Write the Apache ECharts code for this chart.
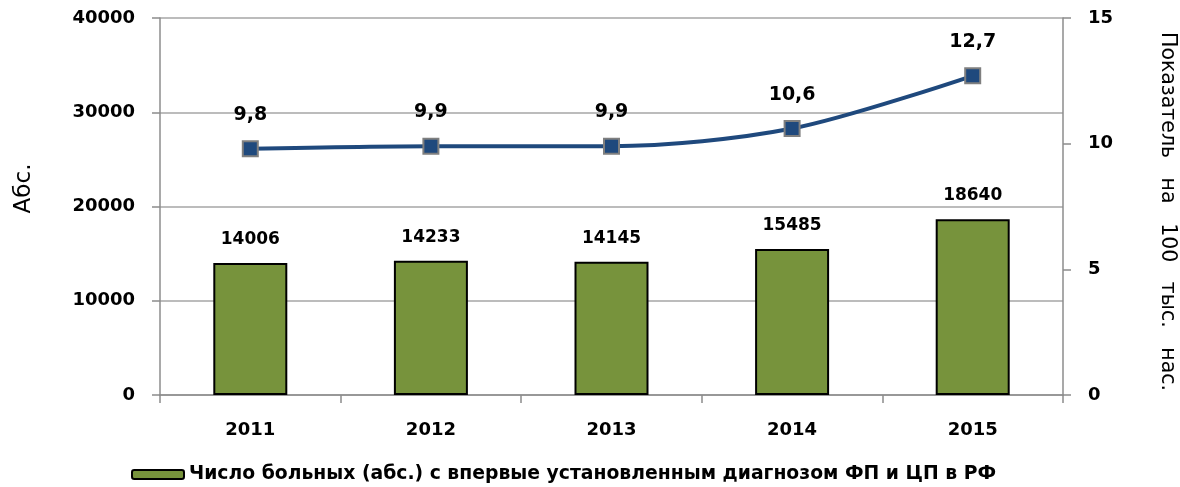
<!DOCTYPE html>
<html><head><meta charset="utf-8">
<script src="https://cdn.jsdelivr.net/npm/echarts@6/dist/echarts.min.js"></script>
<style>html,body{margin:0;padding:0;background:#fff}#c{width:1180px;height:487px}</style>
</head><body><div id="c"></div>
<script>
const categories = ['2011','2012','2013','2014','2015'];
const patients = [14006, 14233, 14145, 15485, 18640];
const rate = [9.8, 9.9, 9.9, 10.6, 12.7];
const leftTicks = [0, 10000, 20000, 30000, 40000];
const rightTicks = [0, 5, 10, 15];
const barName = 'Число больных (абс.) с впервые установленным диагнозом ФП и ЦП в РФ';

const chart = echarts.init(document.getElementById('c'));
const axisGray = '#8c8c8c';
const bold = {fontFamily: 'DejaVu Sans', fontWeight: 'bold', color: '#000'};
chart.setOption({
  animation: false,
  grid: {left: 160, right: 117, top: 18, bottom: 92, outerBoundsMode: 'none', containLabel: false},
  legend: {
    data: [barName], top: 460, left: 126,
    itemWidth: 52, itemHeight: 9, itemGap: 4,
    textStyle: {fontFamily: 'DejaVu Sans', fontWeight: 'bold', fontSize: 18.8, color: '#000'}
  },
  xAxis: {
    type: 'category', data: categories,
    axisLine: {lineStyle: {color: axisGray, width: 1.5}},
    axisTick: {show: true, length: 8, lineStyle: {color: axisGray, width: 1.5}},
    axisLabel: Object.assign({fontSize: 18, margin: 26}, bold)
  },
  yAxis: [{
    type: 'value', min: leftTicks[0], max: leftTicks[leftTicks.length-1], interval: 10000,
    name: 'Абс.', nameLocation: 'middle', nameGap: 124, nameRotate: 90,
    nameTextStyle: {fontFamily: 'DejaVu Sans', fontSize: 23, color: '#000', padding: [0, 0, 0, 36]},
    axisLine: {show: true, lineStyle: {color: axisGray, width: 1.5}},
    axisTick: {show: true, length: 8, lineStyle: {color: axisGray, width: 1.5}},
    splitLine: {lineStyle: {color: '#a6a6a6', width: 1.5}},
    axisLabel: Object.assign({fontSize: 18, margin: 25, formatter: v => String(v)}, bold)
  }, {
    type: 'value', min: rightTicks[0], max: rightTicks[rightTicks.length-1], interval: 5,
    position: 'right',
    name: 'Показатель   на   100   тыс.   нас.', nameLocation: 'middle', nameGap: 94, nameRotate: -90,
    nameTextStyle: {fontFamily: 'DejaVu Sans', fontSize: 20.5, color: '#000', padding: [0, 0, 0, 10]},
    axisLine: {show: true, lineStyle: {color: axisGray, width: 1.5}},
    axisTick: {show: true, length: 8, lineStyle: {color: axisGray, width: 1.5}},
    splitLine: {show: false},
    axisLabel: Object.assign({fontSize: 18, margin: 25}, bold)
  }],
  series: [{
    name: barName, type: 'bar', data: patients, barWidth: 74, yAxisIndex: 0,
    itemStyle: {color: '#77933C', borderColor: '#000', borderWidth: 2},
    label: Object.assign({show: true, position: 'top', distance: 15, fontSize: 17}, bold)
  }, {
    name: 'rate', type: 'line', data: rate, yAxisIndex: 1, smooth: 0.3,
    lineStyle: {color: '#1F497D', width: 4},
    symbol: 'rect', symbolSize: 15,
    itemStyle: {color: '#1F497D', borderColor: '#7f7f7f', borderWidth: 2},
    label: Object.assign({show: true, position: 'top', distance: 16, fontSize: 19,
      formatter: p => String(p.value).replace('.', ',')}, bold)
  }]
});
</script></body></html>
